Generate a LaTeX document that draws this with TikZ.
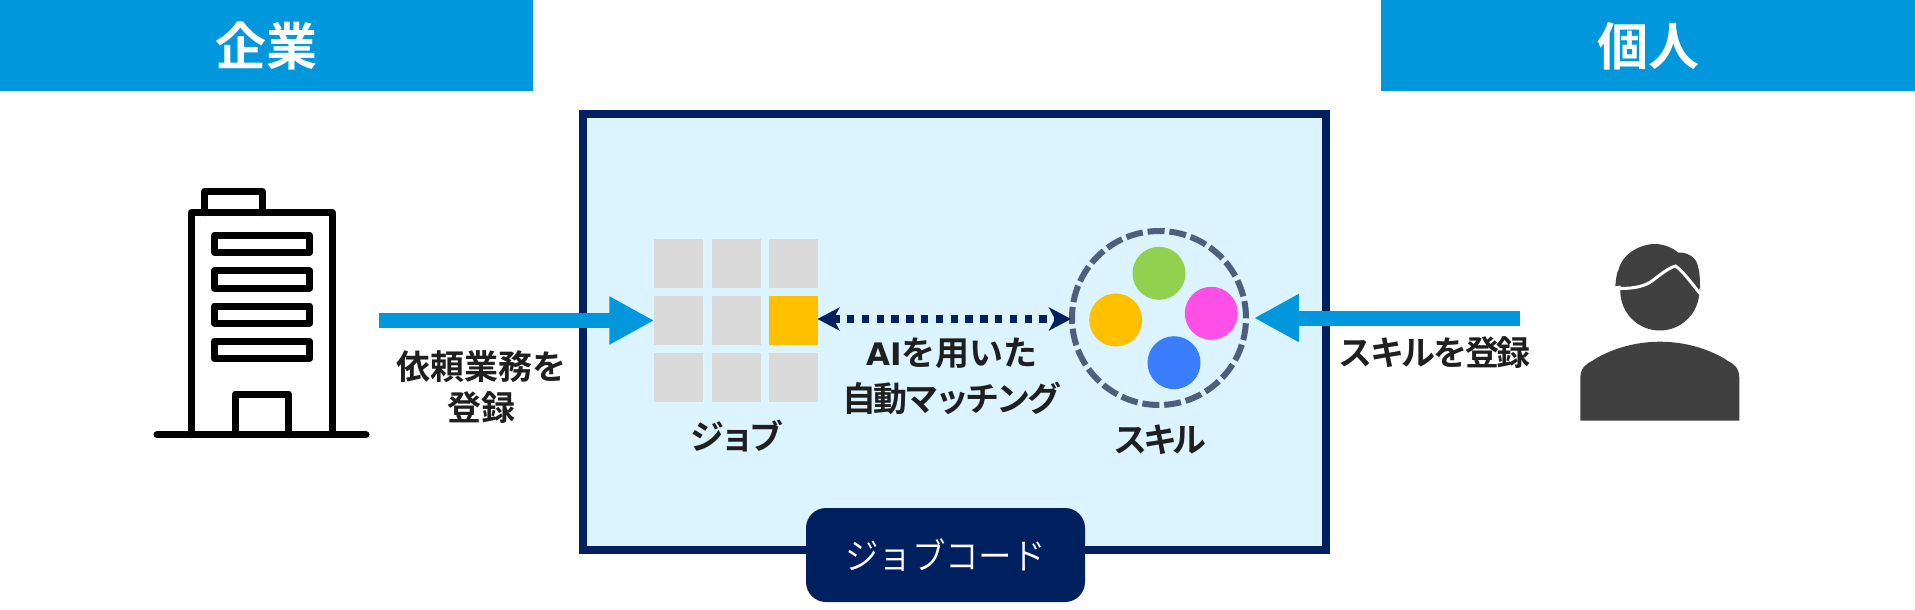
\documentclass[tikz,border=0pt]{standalone}
\usepackage{fontspec}
\usetikzlibrary{arrows.meta}
\setmainfont{Noto Sans CJK JP}
\newfontfamily\jpb{Noto Sans CJK JP Bold}
\newfontfamily\jpk{Noto Sans CJK JP Bold}[LetterSpace=-12]
\newfontfamily\jpm{Noto Sans CJK JP Bold}[LetterSpace=-9]
\newfontfamily\jpr{Noto Sans CJK JP Bold}[LetterSpace=-7]
\newfontfamily\jpl{Noto Sans CJK JP DemiLight}[FakeStretch=0.93]
\newfontfamily\latb{DejaVu Sans Bold}
\definecolor{bannerblue}{HTML}{0097DC}
\definecolor{navy}{HTML}{002060}
\definecolor{paleblue}{HTML}{DBF4FF}
\definecolor{cellgrey}{HTML}{D9D9D9}
\definecolor{amber}{HTML}{FFC000}
\definecolor{leaf}{HTML}{92D050}
\definecolor{pink}{HTML}{FF4FE6}
\definecolor{azure}{HTML}{3B7DFF}
\definecolor{ringgrey}{HTML}{4D5F7C}
\definecolor{ink}{HTML}{1F1F1F}
\definecolor{figure}{HTML}{404040}
\tikzset{
  x=1pt,y=-1pt,
  banner/.style={fill=bannerblue,draw=none,inner sep=0pt,text=white,font=\jpb\fontsize{51}{60}\selectfont},
  cellbox/.style={fill=cellgrey,draw=none,minimum width=49pt,minimum height=49pt,inner sep=0pt,outer sep=0pt},
  dot/.style={circle,draw=none,minimum size=53pt,inner sep=0pt},
  lab/.style={text=ink,font=\jpb\fontsize{34}{41}\selectfont,align=center,inner sep=0pt},
  kanalab/.style={lab,font=\jpk\fontsize{34}{46}\selectfont},
  bigarrow/.style={draw=bannerblue,line width=15pt,-{Triangle[length=45pt,width=45pt]}},
  bldg/.style={draw=black,line width=7pt,line join=round,line cap=round},
}
\begin{document}
\begin{tikzpicture}
\useasboundingbox (0,0) rectangle (1915,610);
\fill[white] (0,0) rectangle (1915,610);
% banners
\fill[bannerblue] (0,0) rectangle (533,91);
\fill[bannerblue] (1381,0) rectangle (1915,91);
\node[banner,fill=none] (corpbanner) at (266.5,46) {企業};
\node[banner,fill=none] (indivbanner) at (1648,46) {個人};
% main panel
\draw[navy,line width=8pt,fill=paleblue] (583,113.5) rectangle (1325.5,550);
\node[fill=navy,rounded corners=20pt,minimum width=279pt,minimum height=94pt,inner sep=0pt,text=white,font=\jpl\fontsize{36}{42}\selectfont] (code) at (945.5,555) {ジョブコード};
% grid
\node[cellbox] (c11) at (678.8,263.5) {};
\node[cellbox] (c12) at (736.2,263.5) {};
\node[cellbox] (c13) at (793,263.5) {};
\node[cellbox] (c21) at (678.8,320.5) {};
\node[cellbox] (c22) at (736.2,320.5) {};
\node[cellbox,fill=amber] (c23) at (793,320.5) {};
\node[cellbox] (c31) at (678.8,377.2) {};
\node[cellbox] (c32) at (736.2,377.2) {};
\node[cellbox] (c33) at (793,377.2) {};
% skills
\node[circle,draw=ringgrey,line width=6pt,dash pattern=on 17pt off 4.85pt,minimum size=174pt,inner sep=0pt,outer sep=3pt] (ring) at (1159,318) {};
\node[dot,fill=leaf] (s1) at (1159,273.3) {};
\node[dot,fill=amber] (s2) at (1115.7,320) {};
\node[dot,fill=pink] (s3) at (1211.3,313.3) {};
\node[dot,fill=azure] (s4) at (1174,362.7) {};
% arrows
\coordinate (corpstart) at (379,320.5);
\coordinate (indivstart) at (1520,318);
\coordinate (dotlevel) at (950,319);
\draw[bigarrow] (corpstart) -- (c21.west);
\draw[bigarrow,shorten >=5pt] (indivstart) -- (ring.east);
\draw[navy,line width=7.3pt,dash pattern=on 7.3pt off 7.5pt,shorten >=-2pt,
  {Stealth[length=22pt,width=23pt,inset=6pt]}-{Stealth[length=22pt,width=23pt,inset=6pt]}]
  (c23.east |- dotlevel) -- (ring.west |- dotlevel);
% labels
\node[lab] (reqlabel) at (481.5,387.5) {依頼業務を\\登録};
\node[lab,font=\jpr\fontsize{34}{41}\selectfont] (skilllabel) at (1434.7,353) {スキルを登録};
\node[kanalab] (joblabel) at (737,436) {ジョブ};
\node[kanalab] (ringlabel) at (1160,440) {スキル};
\node[lab,font=\jpb\fontsize{34}{46}\selectfont] (matchlabel) at (952,376) {{\latb\fontsize{31}{46}\selectfont AI}を用いた\\{\jpm 自動マッチング}};
% building
\draw[bldg] (204.7,212.7) -- (204.7,191.3) -- (262,191.3) -- (262,212.7);
\draw[bldg] (191,434.7) -- (191,212.7) -- (332.3,212.7) -- (332.3,434.7);
\draw[bldg] (214.3,235.3) rectangle (309.7,252.3);
\draw[bldg] (214.3,270.7) rectangle (309.7,288);
\draw[bldg] (214.3,306) rectangle (309.7,323.3);
\draw[bldg] (214.3,341.3) rectangle (309.7,358.7);
\draw[bldg] (235.3,434.7) -- (235.3,394) -- (288.7,394) -- (288.7,434.7);
\draw[bldg] (157,434.7) -- (366,434.7);
% person
\fill[figure] (1659.8,291) circle[radius=39.5];
\fill[figure] (1615.3,286) .. controls (1616,278) and (1617,272) .. (1618.5,270)
  .. controls (1622,254) and (1640,244) .. (1655,244)
  .. controls (1664,244) and (1673,248) .. (1678,252.5)
  .. controls (1686,252) and (1694,256) .. (1697,263)
  .. controls (1700,272) and (1700,280) .. (1700,289)
  -- (1680,270) -- (1640,284) -- cycle;
\draw[white,line width=3pt] (1612,288.5) -- (1620,288.5)
  .. controls (1635,288.5) and (1645,286) .. (1652,281)
  .. controls (1660,275) and (1668,268) .. (1675.5,266)
  .. controls (1684,272) and (1692,284) .. (1702,296);
\fill[figure] (1580.3,420.7) -- (1580.3,378)
  .. controls (1580.3,368) and (1586,364) .. (1592,361)
  .. controls (1610,349) and (1635,341.7) .. (1660,341.7)
  .. controls (1685,341.7) and (1710,349) .. (1728,361)
  .. controls (1734,364) and (1739.3,368) .. (1739.3,378)
  -- (1739.3,420.7) -- cycle;
\end{tikzpicture}
\end{document}
